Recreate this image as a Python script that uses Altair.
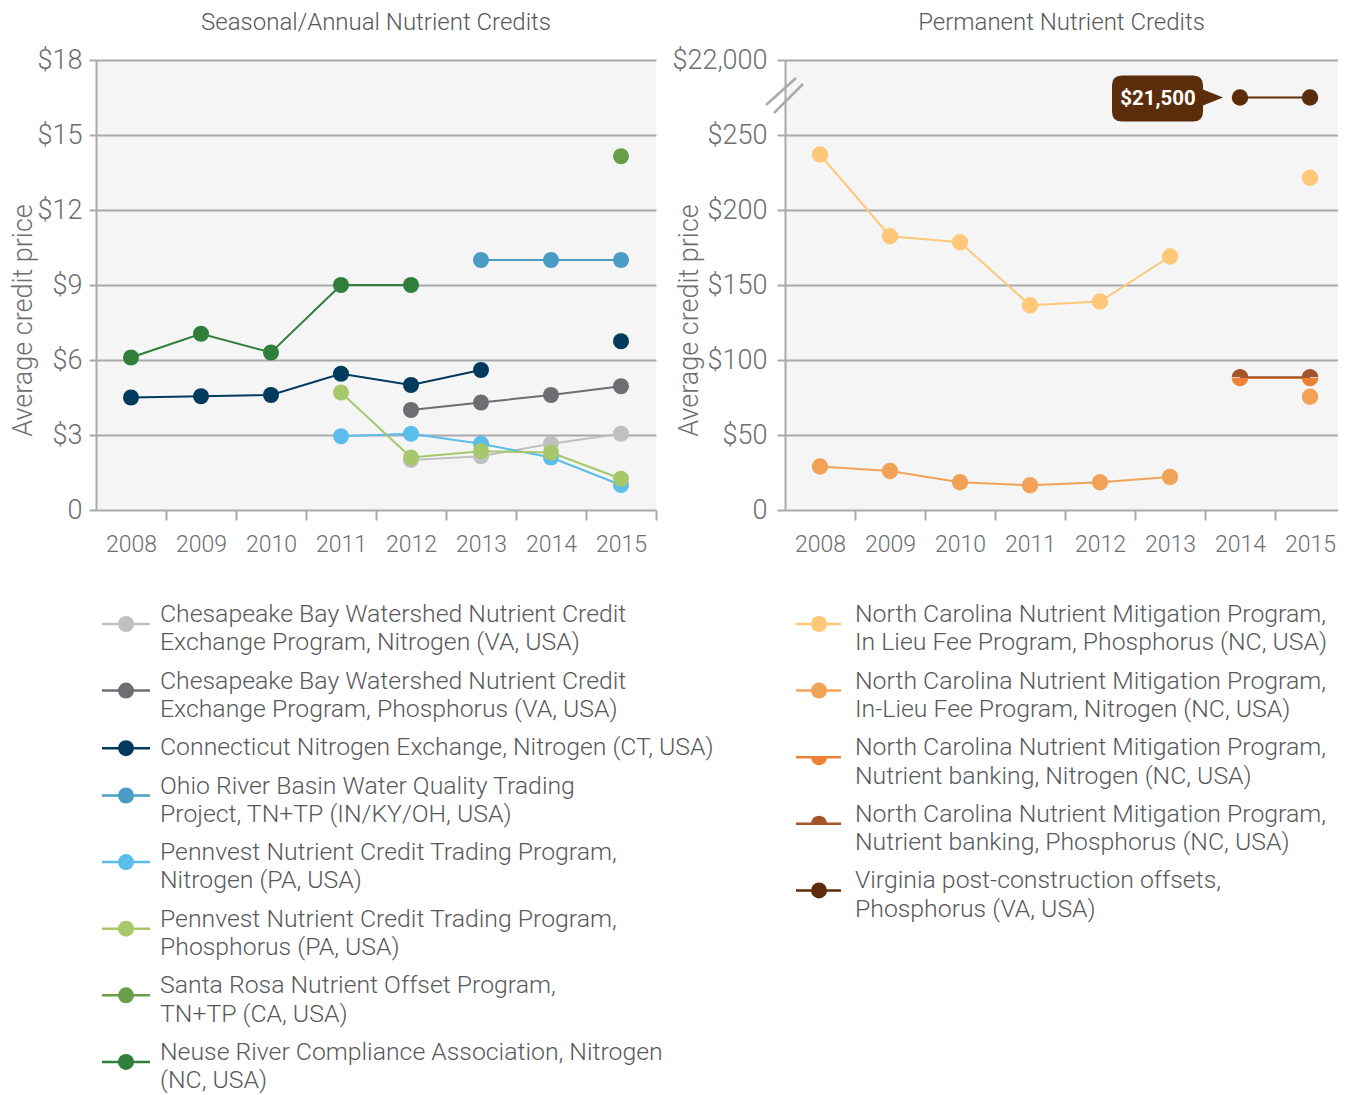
import altair as alt
import pandas as pd

YEARS = [2008, 2009, 2010, 2011, 2012, 2013, 2014, 2015]

SEASONAL_TITLE = "Seasonal/Annual Nutrient Credits"
PERMANENT_TITLE = "Permanent Nutrient Credits"
Y_TITLE = "Average credit price"

SEASONAL_NAMES = [
    "Chesapeake Bay Watershed Nutrient Credit\nExchange Program, Nitrogen (VA, USA)",
    "Chesapeake Bay Watershed Nutrient Credit\nExchange Program, Phosphorus (VA, USA)",
    "Connecticut Nitrogen Exchange, Nitrogen (CT, USA)",
    "Ohio River Basin Water Quality Trading\nProject, TN+TP (IN/KY/OH, USA)",
    "Pennvest Nutrient Credit Trading Program,\nNitrogen (PA, USA)",
    "Pennvest Nutrient Credit Trading Program,\nPhosphorus (PA, USA)",
    "Santa Rosa Nutrient Offset Program,\nTN+TP (CA, USA)",
    "Neuse River Compliance Association, Nitrogen\n(NC, USA)",
]
SEASONAL_COLORS = ["#bfc0c2", "#6d6e71", "#003a5d", "#4a9cc5",
                   "#5bbde9", "#a6c86b", "#6a9d4a", "#2f7f3b"]
SEASONAL_VALUES = [
    [None, None, None, None, 2.0, 2.15, 2.65, 3.05],
    [None, None, None, None, 4.0, 4.3, 4.6, 4.95],
    [4.5, 4.55, 4.6, 5.45, 5.0, 5.6, None, 6.75],
    [None, None, None, None, None, 10.0, 10.0, 10.0],
    [None, None, None, 2.95, 3.05, 2.65, 2.1, 1.0],
    [None, None, None, 4.7, 2.1, 2.35, 2.3, 1.25],
    [None, None, None, None, None, None, None, 14.15],
    [6.1, 7.05, 6.3, 9.0, 9.0, None, None, None],
]
SEASONAL_TICKS = [0, 3, 6, 9, 12, 15, 18]

PERMANENT_NAMES = [
    "North Carolina Nutrient Mitigation Program,\nIn Lieu Fee Program, Phosphorus (NC, USA)",
    "North Carolina Nutrient Mitigation Program,\nIn-Lieu Fee Program, Nitrogen (NC, USA)",
    "North Carolina Nutrient Mitigation Program,\nNutrient banking, Nitrogen (NC, USA)",
    "North Carolina Nutrient Mitigation Program,\nNutrient banking, Phosphorus (NC, USA)",
    "Virginia post-construction offsets,\nPhosphorus (VA, USA)",
]
PERMANENT_COLORS = ["#fec878", "#f2a257", "#ed8237", "#a4552a", "#5c2d0a"]
PERMANENT_VALUES = [
    [237, 182.5, 178.5, 136.5, 139, 169, None, 221.5],
    [29, 26, 18.5, 16.5, 18.5, 22, None, 75.5],
    [None, None, None, None, None, None, 88, 88],
    [None, None, None, None, None, None, 88.5, 88.5],
    [None, None, None, None, None, None, 21500, 21500],
]
PERMANENT_TICKS = [0, 50, 100, 150, 200, 250, 300]
BREAK_FROM = 21000   # value drawn at 250 on the broken axis
BREAK_TOP = 22000    # value drawn at 300 on the broken axis

FONT = "Roboto"
GRID = "#a7a9ac"
TXT = "#58595b"
LBL = "#6d6e71"
BG = "#f4f5f4"

CIRCLE = "circle"
LOWER_HALF = "M -1 0 A 1 1 0 0 0 1 0 Z"
UPPER_HALF = "M -1 0 A 1 1 0 0 1 1 0 Z"
PERMANENT_SHAPES = [CIRCLE, CIRCLE, LOWER_HALF, UPPER_HALF, CIRCLE]
SEASONAL_SHAPES = [CIRCLE] * len(SEASONAL_NAMES)
CALLOUT = ("M -1.18 -0.22 L -0.47 -0.22 Q -0.37 -0.22 -0.37 -0.12 L -0.37 -0.08 "
           "L -0.17 0 L -0.37 0.08 L -0.37 0.14 Q -0.37 0.24 -0.47 0.24 L -1.18 0.24 "
           "Q -1.28 0.24 -1.28 0.14 L -1.28 -0.12 Q -1.28 -0.22 -1.18 -0.22 Z")

LEGEND_TOP = 520  # below the plot area top


def long_table(names, colors, shapes, values):
    rows = []
    for i, (n, c, s, vals) in enumerate(zip(names, colors, shapes, values)):
        seg = 0
        for y, v in zip(YEARS, vals):
            if v is None:
                seg += 1
                continue
            rows.append({"series": n, "color": c, "shape": s, "year": y,
                         "value": v, "seg": f"{i}-{seg}", "order": i})
    return pd.DataFrame(rows)


def x_enc(domain_max):
    vals = [y + h for y in YEARS for h in (0, 0.5)]
    return alt.X("year:Q",
                 scale=alt.Scale(domain=[2007.5, domain_max], nice=False, zero=False),
                 axis=alt.Axis(values=vals, title=None, grid=False, domain=False,
                               labelExpr="datum.value % 1 == 0 ? '' + datum.value : ''",
                               tickOpacity={"condition": {"test": "datum.value % 1 == 0", "value": 0}, "value": 1},
                               tickSize=10, tickWidth=2, tickColor=GRID,
                               labelFontSize=23, labelColor=LBL, labelPadding=13,
                               labelOverlap=False, labelFlush=False, labelBound=False))


def y_axis(ticks, label_expr, tick_size, pad, title_x):
    return alt.Axis(values=ticks, labelExpr=label_expr, title=Y_TITLE,
                    titleX=title_x, titleY=260,
                    titleAlign="center", titleBaseline="middle", titleAngle=-90,
                    titleFontSize=27, titleColor=LBL,
                    grid=True, gridColor=GRID, gridWidth=2,
                    domain=True, domainColor=GRID, domainWidth=2,
                    tickSize=tick_size, tickWidth=2, tickColor=GRID,
                    labelFontSize=27, labelColor=LBL, labelPadding=pad)


def title(text):
    return alt.Title(text, fontSize=24, font=FONT, fontWeight=300, color=TXT,
                     anchor="middle", baseline="bottom", offset=-13)


def legend(names, colors, shapes, rule_x, sym_x, text_x):
    LINE, GAP, FIRST, SYM_OFF = 28.3, 10, 35, 9
    sym_rows, text_rows = [], []
    pos = LEGEND_TOP + FIRST
    for n, c, s in zip(names, colors, shapes):
        lines = n.split("\n")
        sym_rows.append({"sy": pos + (SYM_OFF if len(lines) > 1 else 0),
                         "color": c, "shape": s})
        for k, t in enumerate(lines):
            text_rows.append({"ty": pos + k * LINE, "text": t})
        pos += len(lines) * LINE + GAP
    sd = pd.DataFrame(sym_rows)
    td = pd.DataFrame(text_rows)
    r = alt.Chart(sd).mark_rule(strokeWidth=2.5).encode(
        x=alt.value(rule_x[0]), x2=alt.value(rule_x[1]),
        y=alt.Y("sy:Q", scale=None, axis=None),
        color=alt.Color("color:N", scale=None))
    p = alt.Chart(sd).mark_point(size=256, filled=True, opacity=1, strokeWidth=0).encode(
        x=alt.value(sym_x), y=alt.Y("sy:Q", scale=None, axis=None),
        color=alt.Color("color:N", scale=None),
        shape=alt.Shape("shape:N", scale=None))
    t = alt.Chart(td).mark_text(align="left", baseline="middle", font=FONT,
                                fontWeight=300, fontSize=24.8, color=TXT).encode(
        x=alt.value(text_x), y=alt.Y("ty:Q", scale=None, axis=None), text="text:N")
    return alt.layer(r, p, t)


# ---------------- left panel ----------------
sdf = long_table(SEASONAL_NAMES, SEASONAL_COLORS, SEASONAL_SHAPES, SEASONAL_VALUES)
s_base = alt.Chart(sdf).encode(
    x=x_enc(2015.5),
    y=alt.Y("value:Q", scale=alt.Scale(domain=[0, 18], nice=False),
            axis=y_axis(SEASONAL_TICKS,
                        "datum.value == 0 ? '0' : '$' + datum.value", 7, 7, -73)),
    color=alt.Color("color:N", scale=None),
)
s_lines = s_base.mark_line(strokeWidth=2).encode(detail="seg:N")
s_points = s_base.mark_circle(size=256, opacity=1)
left_data = alt.layer(s_lines, s_points)
left_leg = legend(SEASONAL_NAMES, SEASONAL_COLORS, SEASONAL_SHAPES, (6, 54), 30, 64)
left_plot = alt.layer(left_data, left_leg).resolve_scale(y="independent").properties(
    width=560, height=450, title=title(SEASONAL_TITLE),
    view=alt.ViewBackground(fill=BG, strokeWidth=0))

# ---------------- right panel ----------------
pdf = long_table(PERMANENT_NAMES, PERMANENT_COLORS, PERMANENT_SHAPES, PERMANENT_VALUES)
p_base = alt.Chart(pdf).transform_calculate(
    plot=f"datum.value > 1000 ? 250 + (datum.value - {BREAK_FROM}) * 50 / ({BREAK_TOP} - {BREAK_FROM}) : datum.value"
).encode(
    x=x_enc(2015.4),
    y=alt.Y("plot:Q", scale=alt.Scale(domain=[0, 300], nice=False),
            axis=y_axis(PERMANENT_TICKS,
                        f"datum.value == 300 ? '${BREAK_TOP // 1000},000' : datum.value == 0 ? '0' : '$' + datum.value",
                        8, 10, -96)),
    color=alt.Color("color:N", scale=None),
)
p_lines = p_base.mark_line(strokeWidth=2).encode(detail="seg:N")
p_callout = p_base.transform_filter(
    f"datum.value > 1000 && datum.year == {YEARS[6]}"
).mark_point(shape=CALLOUT, size=40000, filled=True, opacity=1, strokeWidth=0)
p_callout_text = p_base.transform_filter(
    f"datum.value > 1000 && datum.year == {YEARS[6]}"
).mark_text(dx=-82, dy=1, font=FONT, fontWeight="bold", fontSize=20.5,
            align="center", baseline="middle").encode(
    text=alt.Text("value:Q", format="$,.0f"), color=alt.value("white"))
p_points = p_base.mark_point(size=270, filled=True, opacity=1, strokeWidth=0).encode(
    shape=alt.Shape("shape:N", scale=None))

one = pd.DataFrame({"k": [0]})
brk1 = alt.Chart(one).mark_rule(color=GRID, strokeWidth=2.5).encode(
    x=alt.value(-19), x2=alt.value(11), y=alt.value(45), y2=alt.value(18))
brk2 = alt.Chart(one).mark_rule(color=GRID, strokeWidth=2.5).encode(
    x=alt.value(-11), x2=alt.value(18), y=alt.value(53), y2=alt.value(24))

right_data = alt.layer(p_lines, p_points, p_callout, p_callout_text)
right_leg = legend(PERMANENT_NAMES, PERMANENT_COLORS, PERMANENT_SHAPES, (11, 56), 34, 70)
right_plot = alt.layer(right_data, brk1, brk2, right_leg).resolve_scale(y="independent").properties(
    width=553, height=450, title=title(PERMANENT_TITLE),
    view=alt.ViewBackground(fill=BG, strokeWidth=0))

chart = alt.hconcat(left_plot, right_plot, spacing=129, bounds="flush").properties(
    padding={"left": 1, "top": 3, "right": 0, "bottom": 0}
).configure_view(strokeWidth=0).configure_axis(
    labelFont=FONT, titleFont=FONT, labelFontWeight=300, titleFontWeight=300)

chart.save("out.html", embed_options={"renderer": "svg", "actions": False})
